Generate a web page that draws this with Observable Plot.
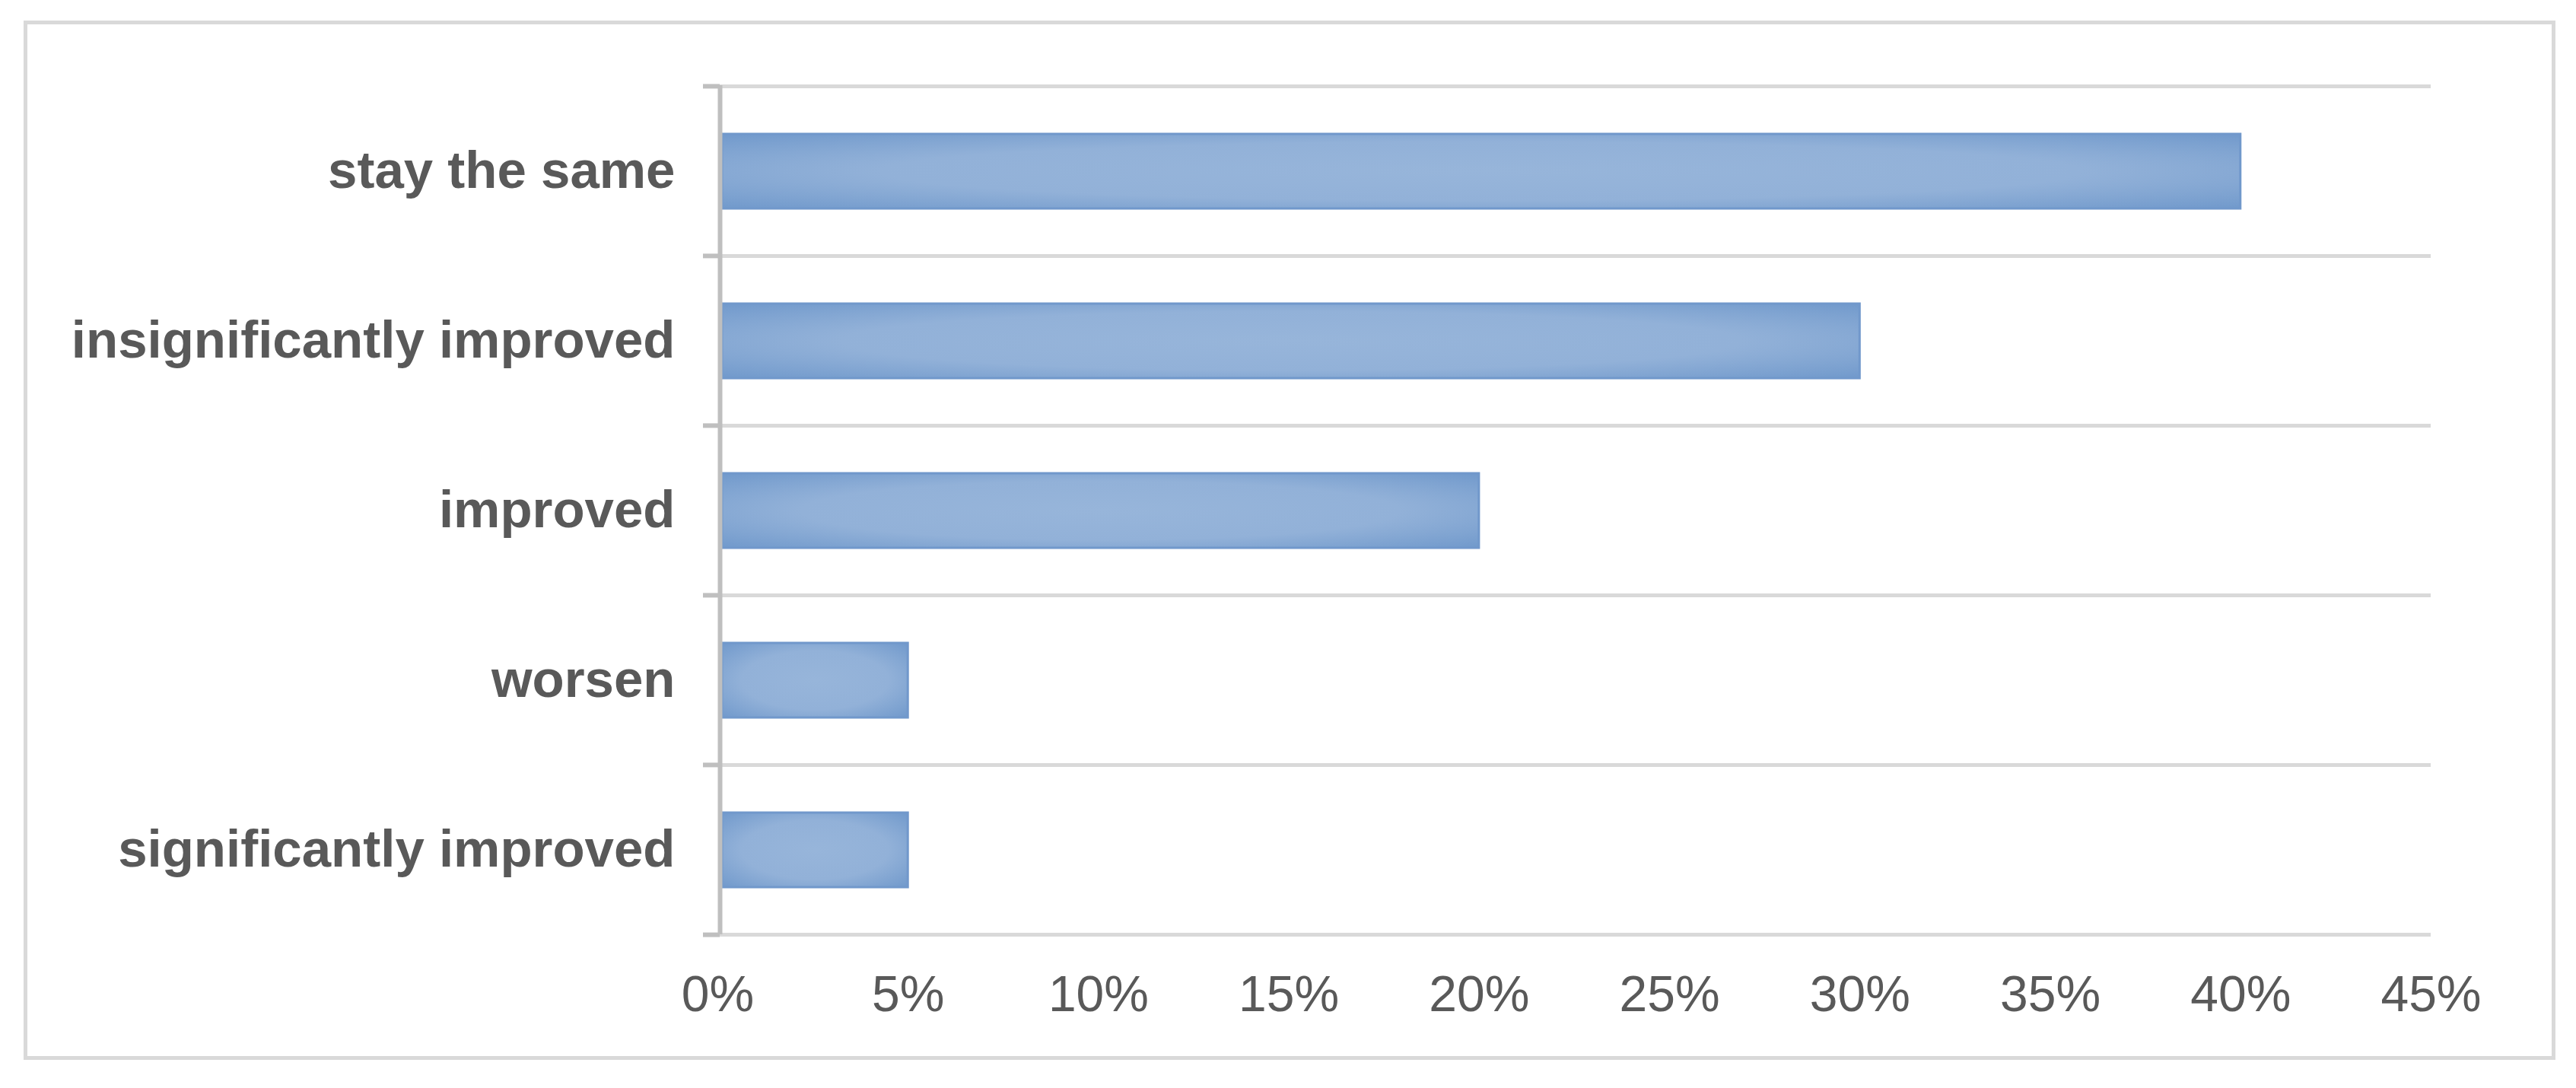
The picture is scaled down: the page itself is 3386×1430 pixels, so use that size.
<!DOCTYPE html>
<html>
<head>
<meta charset="utf-8">
<script src="https://cdn.jsdelivr.net/npm/d3@7"></script>
<script src="https://cdn.jsdelivr.net/npm/@observablehq/plot@0.6"></script>
<style>
html, body { margin: 0; padding: 0; background: #ffffff; }
#wrap { position: relative; width: 3386px; height: 1430px; overflow: hidden; }
#frame { position: absolute; left: 31px; top: 27px; width: 3328px; height: 1366px; border: 5px solid #d9d9d9; box-sizing: border-box; }
#chart { position: absolute; left: 0; top: 0; }
</style>
</head>
<body>
<div id="wrap"><div id="frame"></div><div id="chart"></div></div>
<script>
// Categories (top to bottom) and their shares
const categories = ["stay the same", "insignificantly improved", "improved", "worsen", "significantly improved"];
const values = [0.40, 0.30, 0.20, 0.05, 0.05];
const xTicks = [0, 0.05, 0.10, 0.15, 0.20, 0.25, 0.30, 0.35, 0.40, 0.45];
const xDomain = [0, 0.45];

const data = categories.map((c, i) => ({category: c, value: values[i]}));

const W = 3386, H = 1430;
const mL = 943, mR = 191, mT = 112, mB = 202;
const bw = (H - mT - mB) / categories.length;

const gradientDefs = () => {
  const defs = d3.create("svg:defs");
  const g = defs.append("radialGradient")
    .attr("id", "barGrad")
    .attr("cx", "50%").attr("cy", "50%").attr("r", "72%");
  g.append("stop").attr("offset", "0%").attr("stop-color", "#97b5da");
  g.append("stop").attr("offset", "55%").attr("stop-color", "#92b1d8");
  g.append("stop").attr("offset", "100%").attr("stop-color", "#6f98cb");
  return defs.node();
};

const chart = Plot.plot({
  width: W,
  height: H,
  marginLeft: mL,
  marginRight: mR,
  marginTop: mT,
  marginBottom: mB,
  style: {fontFamily: "'Liberation Sans', Arial, sans-serif", color: "#595959", background: "transparent", overflow: "visible"},
  x: {domain: xDomain},
  y: {domain: categories, padding: 0},
  marks: [
    gradientDefs,
    // horizontal gridlines at category boundaries
    Plot.ruleY(categories, {y: d => d, dy: -bw / 2, stroke: "#d9d9d9", strokeWidth: 5}),
    Plot.ruleY([categories[categories.length - 1]], {y: d => d, dy: bw / 2, stroke: "#d9d9d9", strokeWidth: 5}),
    // bars
    Plot.barX(data, {
      y: "category", x: "value",
      fill: "url(#barGrad)", stroke: "#7198cb", strokeWidth: 3,
      insetTop: 63, insetBottom: 62, insetLeft: 6
    }),
    // category axis tick marks (left of axis)
    Plot.ruleY(categories, {y: d => d, dy: -bw / 2, x1: 0, x2: 0, insetLeft: -19, insetRight: -3, stroke: "#bfbfbf", strokeWidth: 6}),
    Plot.ruleY([categories[categories.length - 1]], {y: d => d, dy: bw / 2, x1: 0, x2: 0, insetLeft: -19, insetRight: -3, stroke: "#bfbfbf", strokeWidth: 6}),
    // vertical category axis line
    Plot.ruleX([0], {dx: 3, stroke: "#bfbfbf", strokeWidth: 6}),
    Plot.axisY({tickSize: 0, tickPadding: 56, fontSize: 69, fontWeight: "bold", label: null}),
    Plot.axisX({ticks: xTicks, tickFormat: d3.format(".0%"), tickSize: 0, tickPadding: 54, fontSize: 66, label: null})
  ]
});

document.getElementById("chart").appendChild(chart);
</script>
</body>
</html>
